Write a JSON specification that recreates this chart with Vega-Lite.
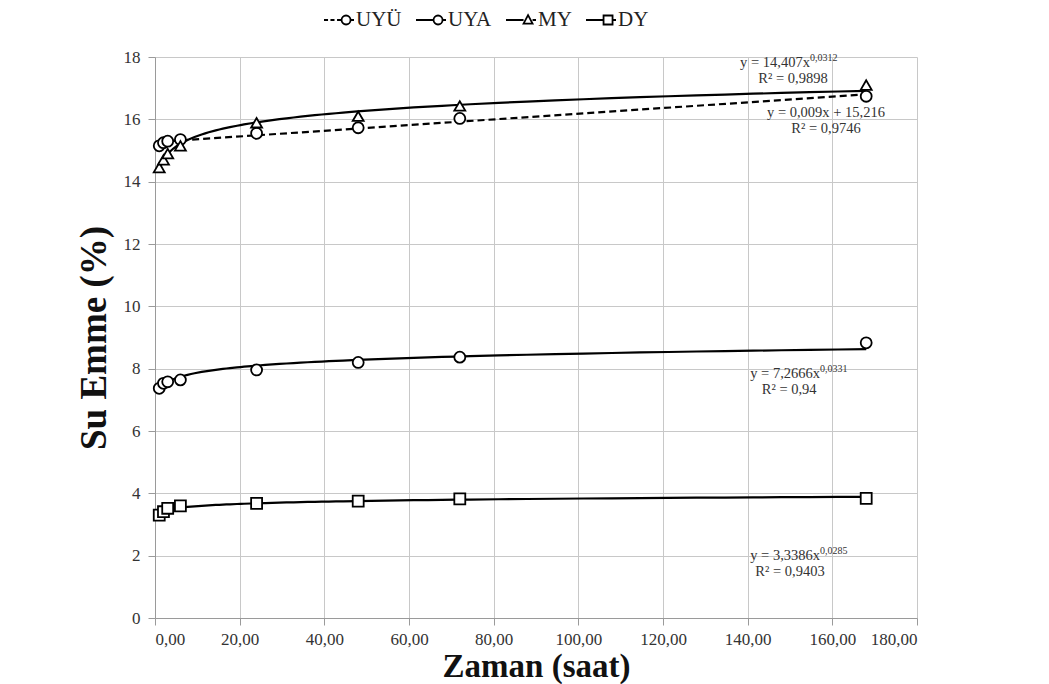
{
  "$schema": "https://vega.github.io/schema/vega-lite/v6.json",
  "width": 762,
  "height": 561,
  "autosize": {"type": "none"},
  "padding": {"left": 155, "top": 57, "right": 132, "bottom": 66},
  "background": "white",
  "config": {
    "locale": {"number": {"decimal": ",", "thousands": ".", "grouping": [3], "currency": ["", ""]}},
    "view": {"stroke": null},
    "font": "Liberation Serif",
    "axis": {
      "gridColor": "#c8c8c8",
      "gridWidth": 1,
      "domainColor": "#9a9a9a",
      "tickColor": "#9a9a9a",
      "tickSize": 7,
      "labelFont": "Liberation Serif",
      "labelFontSize": 17,
      "labelColor": "#333333",
      "titleFont": "Liberation Serif",
      "titleFontWeight": "bold",
      "titleColor": "#111111"
    }
  },
  "resolve": {"scale": {"shape": "independent"}, "legend": {"shape": "independent"}},
  "datasets": {
    "pts": [
      {"series": "UYÜ", "x": 1, "y": 15.15},
      {"series": "UYÜ", "x": 2, "y": 15.25},
      {"series": "UYÜ", "x": 3, "y": 15.3},
      {"series": "UYÜ", "x": 6, "y": 15.35},
      {"series": "UYÜ", "x": 24, "y": 15.55},
      {"series": "UYÜ", "x": 48, "y": 15.73},
      {"series": "UYÜ", "x": 72, "y": 16.03},
      {"series": "UYÜ", "x": 168, "y": 16.74},
      {"series": "UYA", "x": 1, "y": 7.37},
      {"series": "UYA", "x": 2, "y": 7.53},
      {"series": "UYA", "x": 3, "y": 7.58},
      {"series": "UYA", "x": 6, "y": 7.64},
      {"series": "UYA", "x": 24, "y": 7.96},
      {"series": "UYA", "x": 48, "y": 8.2},
      {"series": "UYA", "x": 72, "y": 8.37},
      {"series": "UYA", "x": 168, "y": 8.83},
      {"series": "MY", "x": 1, "y": 14.45},
      {"series": "MY", "x": 2, "y": 14.7},
      {"series": "MY", "x": 3, "y": 14.9},
      {"series": "MY", "x": 6, "y": 15.15},
      {"series": "MY", "x": 24, "y": 15.89},
      {"series": "MY", "x": 48, "y": 16.1},
      {"series": "MY", "x": 72, "y": 16.43},
      {"series": "MY", "x": 168, "y": 17.1},
      {"series": "DY", "x": 1, "y": 3.3},
      {"series": "DY", "x": 2, "y": 3.41},
      {"series": "DY", "x": 3, "y": 3.52},
      {"series": "DY", "x": 6, "y": 3.6},
      {"series": "DY", "x": 24, "y": 3.68},
      {"series": "DY", "x": 48, "y": 3.75},
      {"series": "DY", "x": 72, "y": 3.82},
      {"series": "DY", "x": 168, "y": 3.84}
    ],
    "notes": [
      {"kind": "main", "x": 154.7, "y": 17.8, "text": "y = 14,407x"},
      {"kind": "sup", "x": 154.7, "y": 17.8, "text": "0,0312"},
      {"kind": "r2", "x": 150.7, "y": 17.29, "text": "R² = 0,9898"},
      {"kind": "r2", "x": 158.5, "y": 16.2, "text": "y = 0,009x + 15,216"},
      {"kind": "r2", "x": 158.5, "y": 15.69, "text": "R² = 0,9746"},
      {"kind": "main", "x": 157.1, "y": 7.82, "text": "y = 7,2666x"},
      {"kind": "sup", "x": 157.1, "y": 7.82, "text": "0,0331"},
      {"kind": "r2", "x": 149.8, "y": 7.3, "text": "R² = 0,94"},
      {"kind": "main", "x": 157.1, "y": 2.0, "text": "y = 3,3386x"},
      {"kind": "sup", "x": 157.1, "y": 2.0, "text": "0,0285"},
      {"kind": "r2", "x": 150, "y": 1.46, "text": "R² = 0,9403"}
    ]
  },
  "encoding": {
    "x": {
      "field": "x", "type": "quantitative",
      "scale": {"domain": [0, 180], "nice": false},
      "axis": {"values": [0, 20, 40, 60, 80, 100, 120, 140, 160, 180], "format": ".2f", "title": "Zaman (saat)", "titleFontSize": 33, "titlePadding": 3, "labelPadding": 6}
    },
    "y": {
      "field": "y", "type": "quantitative",
      "scale": {"domain": [0, 18], "nice": false},
      "axis": {"values": [0, 2, 4, 6, 8, 10, 12, 14, 16, 18], "format": "d", "title": "Su Emme (%)", "titleFontSize": 37, "titlePadding": 10, "labelPadding": 8}
    }
  },
  "layer": [
    {
      "data": {"name": "pts"},
      "transform": [
        {"filter": "datum.series !== 'UYÜ'"},
        {"regression": "y", "on": "x", "groupby": ["series"], "method": "pow"}
      ],
      "mark": {"type": "line", "color": "black", "strokeWidth": 2.2},
      "encoding": {"detail": {"field": "series"}}
    },
    {
      "data": {"name": "pts"},
      "transform": [
        {"filter": "datum.series === 'UYÜ'"},
        {"regression": "y", "on": "x", "method": "linear"}
      ],
      "mark": {"type": "line", "color": "black", "strokeWidth": 2.2, "strokeDash": [7, 4]},
      "encoding": {}
    },
    {
      "data": {"name": "pts"},
      "mark": {"type": "point", "filled": true, "fill": "white", "stroke": "black", "strokeWidth": 1.8, "size": 120, "opacity": 1},
      "encoding": {
        "shape": {
          "field": "series", "type": "nominal",
          "scale": {"domain": ["UYÜ", "UYA", "MY", "DY"], "range": ["circle", "circle", "triangle-up", "square"]},
          "legend": null
        }
      }
    },
    {
      "data": {"name": "pts"},
      "transform": [{"filter": "false"}],
      "mark": {"type": "point", "filled": false, "color": "black", "strokeWidth": 1.8, "size": 900, "opacity": 1},
      "encoding": {
        "shape": {
          "field": "series", "type": "nominal",
          "scale": {
            "domain": ["UYÜ", "UYA", "MY", "DY"],
            "range": [
              "M-1,0H-0.73M-0.57,0H-0.3M-0.13,0H0.17M0.17,0A0.3,0.3 0 1,1 0.77,0A0.3,0.3 0 1,1 0.17,0M0.77,0H1",
              "M-1,0H0.17M0.17,0A0.3,0.3 0 1,1 0.77,0A0.3,0.3 0 1,1 0.17,0M0.77,0H1",
              "M-1,0H0.17M0.17,0.24L0.47,-0.32L0.77,0.24ZM0.77,0H1",
              "M-1,0H0.17M0.17,-0.3H0.77V0.3H0.17ZM0.77,0H1"
            ]
          },
          "legend": {
            "orient": "none",
            "direction": "horizontal",
            "legendX": 168,
            "legendY": -53,
            "title": null,
            "padding": 0,
            "symbolSize": 900,
            "symbolStrokeWidth": 1.8,
            "symbolStrokeColor": "black",
            "symbolFillColor": "white",
            "symbolOpacity": 1,
            "labelFont": "Liberation Serif",
            "labelFontSize": 21,
            "labelColor": "#222222",
            "labelOffset": 1,
            "columnPadding": 10
          }
        }
      }
    },
    {
      "data": {"name": "notes"},
      "transform": [{"filter": "datum.kind === 'main'"}],
      "mark": {"type": "text", "align": "right", "baseline": "middle", "fontSize": 14.5, "font": "Liberation Serif", "color": "#333333"},
      "encoding": {"text": {"field": "text"}}
    },
    {
      "data": {"name": "notes"},
      "transform": [{"filter": "datum.kind === 'sup'"}],
      "mark": {"type": "text", "align": "left", "baseline": "middle", "fontSize": 10, "dy": -5, "font": "Liberation Serif", "color": "#333333"},
      "encoding": {"text": {"field": "text"}}
    },
    {
      "data": {"name": "notes"},
      "transform": [{"filter": "datum.kind === 'r2'"}],
      "mark": {"type": "text", "align": "center", "baseline": "middle", "fontSize": 14.5, "font": "Liberation Serif", "color": "#333333"},
      "encoding": {"text": {"field": "text"}}
    }
  ]
}
